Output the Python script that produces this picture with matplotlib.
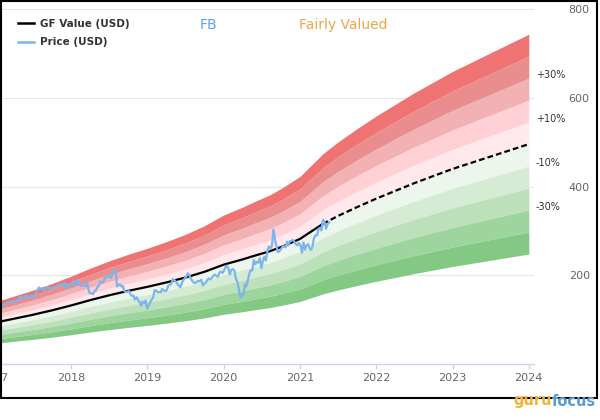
import numpy as np
import pandas as pd
import matplotlib
matplotlib.use('Agg')
import matplotlib.pyplot as plt
from matplotlib.lines import Line2D
from matplotlib.patches import Rectangle

# ---------------- data ----------------
price_start = '2017-02-01'
price_end = '2021-05-21'
price = [
    # 2017
    131.0, 134.2, 133.5, 135.4,
    137.4, 139.8, 140.0, 141.8, 142.1,
    140.8, 139.4, 143.8, 150.3,
    150.2, 150.3, 148.1, 152.0,
    153.6, 149.8, 152.2, 155.1, 151.0,
    151.4, 159.3, 164.4, 172.5,
    169.3, 171.0, 167.4, 166.3,
    172.0, 173.5, 170.0, 170.9, 170.9,
    172.2, 173.7, 174.6, 177.9,
    178.9, 178.5, 179.0, 182.8,
    171.5, 179.0, 180.2, 177.2, 176.5,
    # 2018
    186.9, 179.4, 179.8, 190.0,
    181.4, 176.1, 177.4, 176.6,
    176.6, 185.2, 169.4, 159.4, 159.8,
    157.2, 164.5, 166.3, 173.6,
    176.6, 187.0, 183.2, 184.9,
    194.0, 195.1, 201.5, 196.4, 194.3,
    203.2, 207.3, 214.0, 174.9,
    177.8, 180.1, 174.7, 175.7,
    163.7, 162.5, 162.9, 164.5,
    157.3, 153.4, 154.1, 145.4,
    150.4, 144.2, 139.5, 131.7, 140.6,
    137.4, 143.1, 124.9, 131.1,
    # 2019
    138.1, 145.4, 150.0, 166.7,
    165.7, 162.3, 162.3, 161.5,
    169.6, 166.0, 164.3, 166.7,
    176.0, 179.1, 180.0, 191.5,
    189.5, 186.3, 181.1, 177.5,
    173.3, 181.3, 189.5, 193.0,
    196.4, 204.9, 199.8, 192.7,
    187.5, 183.7, 182.6, 185.7,
    187.5, 186.5, 189.9, 177.1,
    180.5, 184.2, 189.5, 192.9,
    190.8, 194.5, 198.8, 201.6,
    199.0, 196.8, 206.3, 208.1, 205.3,
    # 2020
    209.8, 218.3, 221.8, 214.9, 201.9,
    212.3, 214.2, 210.2, 192.5,
    185.9, 170.3, 149.7, 156.8, 154.2,
    179.6, 175.2, 190.1, 204.7,
    211.9, 210.9, 234.9, 225.1,
    230.8, 228.6, 238.8, 216.1,
    233.4, 242.0, 233.3, 253.7,
    265.3, 261.2, 266.6, 303.9,
    282.7, 266.6, 252.5, 254.8,
    258.7, 264.5, 265.9, 263.1,
    276.0, 268.0, 277.0, 277.8,
    279.7, 275.6, 270.0, 267.4, 273.2,
    # 2021
    267.6, 251.4, 274.5, 258.3,
    267.0, 270.5, 261.6, 257.6,
    264.3, 284.0, 290.1, 290.0,
    305.0, 307.0, 301.5, 325.0,
    320.0, 305.0, 315.0, 320.0,
]

gf_years = [2017.08, 2017.25, 2017.5, 2017.75, 2018.0, 2018.25, 2018.5, 2018.75,
            2019.0, 2019.25, 2019.5, 2019.75, 2020.0, 2020.25, 2020.4, 2020.6,
            2020.77, 2021.0, 2021.15, 2021.3]
gf_values = [96, 102, 111, 121, 132, 144, 155, 165,
             174, 184, 195, 208, 224, 236, 244, 254,
             265, 282, 299, 316]

proj_years = [2021.3, 2021.5, 2021.75, 2022.0, 2022.5, 2023.0, 2023.5, 2024.0]
proj_values = [316, 334, 354, 373, 408, 440, 468, 496]

band_pcts = [0.1, 0.2, 0.3, 0.4, 0.5]
red_colors = ['#ffe9ec', '#ffd1d6', '#f2b2b3', '#e98d8e', '#f07373']
green_colors = ['#edf6ec', '#d5ebd4', '#bbe0ba', '#9ed49d', '#84c983']

pct_labels = ['+30%', '+10%', '-10%', '-30%']
pct_levels = [0.3, 0.1, -0.1, -0.3]

year_ticks = [2018, 2019, 2020, 2021, 2022, 2023, 2024]
y_ticks = [200, 400, 600, 800]

# ---------------- figure ----------------
fig = plt.figure(figsize=(6, 4.2), dpi=100)
ax = fig.add_axes([1 / 600, 56 / 420, 533 / 600, 362 / 420])

dates = pd.date_range(price_start, price_end, periods=len(price))
px = np.asarray(dates.year + (dates.dayofyear - 1) / (365 + dates.is_leap_year.astype(int)))

all_years = np.array(gf_years + proj_years[1:])
all_vals = np.array(gf_values + proj_values[1:], dtype=float)

prev = all_vals
for p, c in zip(band_pcts, red_colors):
    up = all_vals * (1 + p)
    ax.fill_between(all_years, prev, up, color=c, lw=0, zorder=1)
    prev = up
prev = all_vals
for p, c in zip(band_pcts, green_colors):
    dn = all_vals * (1 - p)
    ax.fill_between(all_years, dn, prev, color=c, lw=0, zorder=1)
    prev = dn

ax.plot(gf_years, gf_values, color='black', lw=1.6, zorder=3, solid_capstyle='butt')
ax.plot(proj_years, proj_values, color='black', lw=1.6, zorder=3,
        dashes=(2.6, 1.4))
ax.plot(px, price, color='#7cb5ec', lw=1.6, zorder=4)

for lab, lv in zip(pct_labels, pct_levels):
    ax.annotate(lab, xy=(proj_years[-1], proj_values[-1] * (1 + lv)),
                xytext=(7, 3), textcoords='offset pixels',
                ha='left', va='center', fontsize=7, color='#333333',
                annotation_clip=False)

ax.set_xlim(2017.083, 2024.068)
ax.set_ylim(0, 816.6)
ax.set_xticks(year_ticks)
ax.set_xticklabels([str(y) for y in year_ticks])
ax.set_yticks(y_ticks)
ax.set_yticklabels([str(v) for v in y_ticks])
ax.yaxis.tick_right()
ax.tick_params(axis='y', length=0, pad=25, labelsize=8, labelcolor='#666666')
ax.tick_params(axis='x', length=3.6, width=1, color='#ccd6eb', pad=3,
               labelsize=8, labelcolor='#666666')
ax.grid(axis='y', color='#e6e6e6', lw=0.8, zorder=0)
ax.set_axisbelow(True)
for s in ['top', 'left', 'right']:
    ax.spines[s].set_visible(False)
ax.spines['bottom'].set_color('#ccd6eb')
ax.spines['bottom'].set_linewidth(1)
ax.spines['bottom'].set_zorder(5)

# partially visible 2017 label at left edge (cut off in the reference too)
ax.text(2017.0, -0.04, '2017', transform=ax.get_xaxis_transform(), ha='center',
        va='center', fontsize=8, color='#666666', clip_on=False)

handles = [Line2D([], [], color='black', lw=1.8), Line2D([], [], color='#7cb5ec', lw=1.8)]
leg = ax.legend(handles, ['GF Value (USD)', 'Price (USD)'], loc='upper left',
                bbox_to_anchor=(17 / 533, 1 - 17 / 362), frameon=False,
                borderpad=0, borderaxespad=0, handlelength=1.5, handletextpad=0.6,
                labelspacing=0.8, prop={'weight': 'bold', 'size': 7.5})
for t in leg.get_texts():
    t.set_color('#333333')

fig.text(208 / 600, 1 - 25 / 420, 'FB', color='#5ea3ef', fontsize=10,
         ha='center', va='center')
fig.text(343 / 600, 1 - 25 / 420, 'Fairly Valued', color='#eda64a', fontsize=10,
         ha='center', va='center')

# border
fig.add_artist(Rectangle((0.5 / 600, 1 - 398 / 420), 596.5 / 600, 397.5 / 420,
                         transform=fig.transFigure, fill=False, lw=1.5,
                         ec='black', zorder=10))

# logo
fig.text(552 / 600, 1 - 401 / 420, 'guru', color='#f2b233', fontsize=10.5,
         fontweight='bold', ha='right', va='center', zorder=11)
fig.text(552 / 600, 1 - 401 / 420, 'focus', color='#5b9bd5', fontsize=10.5,
         fontweight='bold', ha='left', va='center', zorder=11)

fig.savefig('out.png', dpi=100)
